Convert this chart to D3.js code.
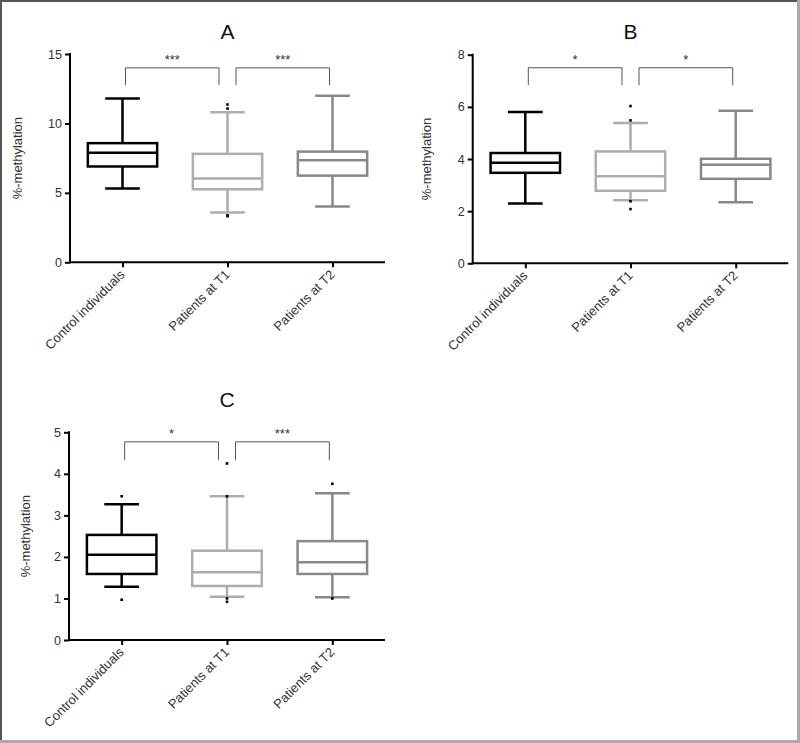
<!DOCTYPE html>
<html><head><meta charset="utf-8">
<script src="https://cdn.jsdelivr.net/npm/d3@7"></script>
<style>
html,body{margin:0;padding:0;background:#fff;}
svg{display:block;font-family:"Liberation Sans",Arial,sans-serif;}
</style></head>
<body>
<svg id="chart" width="800" height="743"></svg>
<script>
const categories = ["Control individuals", "Patients at T1", "Patients at T2"];
const colors = ["#000000", "#adadad", "#888888"];

// Panel A
const A_low = [5.31, 3.58, 4.01];
const A_q1 = [6.90, 5.26, 6.24];
const A_med = [7.88, 6.03, 7.35];
const A_q3 = [8.58, 7.81, 7.97];
const A_high = [11.80, 10.81, 11.99];
const A_outliers = [[], [11.36, 11.07, 3.38, 3.32], []];
const A_ticks = [0, 5, 10, 15];
const A_sig = ["***", "***"];

// Panel B
const B_low = [2.29, 2.42, 2.34];
const B_q1 = [3.47, 2.78, 3.24];
const B_med = [3.86, 3.34, 3.78];
const B_q3 = [4.23, 4.29, 4.01];
const B_high = [5.80, 5.38, 5.85];
const B_outliers = [[], [6.03, 5.48, 2.38, 2.08], []];
const B_ticks = [0, 2, 4, 6, 8];
const B_sig = ["*", "*"];

// Panel C
const C_low = [1.28, 1.04, 1.03];
const C_q1 = [1.59, 1.30, 1.59];
const C_med = [2.05, 1.63, 1.87];
const C_q3 = [2.53, 2.15, 2.38];
const C_high = [3.27, 3.46, 3.53];
const C_outliers = [[3.46, 0.97], [4.25, 3.46, 1.00, 0.92], [3.76, 1.00]];
const C_ticks = [0, 1, 2, 3, 4, 5];
const C_sig = ["*", "***"];

const panelTitles = ["A", "B", "C"];
const bracketTop = [14.0, 7.5, 4.77];
const bracketLeg = [12.76, 6.83, 4.33];

const svg = d3.select("#chart");

// frame
svg.append("rect").attr("x", 0).attr("y", 0).attr("width", 800).attr("height", 743).attr("fill", "#fff");
svg.append("line").attr("x1", 0).attr("y1", 1).attr("x2", 800).attr("y2", 1).attr("stroke", "#555").attr("stroke-width", 2);
svg.append("line").attr("x1", 1).attr("y1", 0).attr("x2", 1).attr("y2", 743).attr("stroke", "#555").attr("stroke-width", 2);
svg.append("line").attr("x1", 798.5).attr("y1", 0).attr("x2", 798.5).attr("y2", 743).attr("stroke", "#aaa").attr("stroke-width", 3);
svg.append("line").attr("x1", 0).attr("y1", 741.5).attr("x2", 800).attr("y2", 741.5).attr("stroke", "#aaa").attr("stroke-width", 3);

function panel(cfg) {
  const g = svg.append("g");
  const x = d3.scalePoint().domain(categories).range([cfg.x0, cfg.x1]).padding(0.5);
  const y = d3.scaleLinear().domain([0, cfg.ticks[cfg.ticks.length - 1]]).range([cfg.yb, cfg.yt]);
  const step = x.step();
  const bw = step * 0.66;
  const cw = bw / 2;

  // title
  g.append("text").attr("x", (cfg.x0 + cfg.x1) / 2).attr("y", cfg.titleY)
    .attr("text-anchor", "middle").attr("font-size", 21).attr("fill", "#111").text(cfg.title);

  // y axis
  const yAxis = d3.axisLeft(y).tickValues(cfg.ticks).tickSize(5).tickPadding(3).tickFormat(d3.format("d"));
  const ya = g.append("g").attr("transform", `translate(${cfg.x0},0)`).call(yAxis);
  ya.select(".domain").remove();
  ya.selectAll(".tick line").attr("stroke", "#000").attr("stroke-width", 2);
  ya.selectAll(".tick text").attr("font-size", 12.5).attr("fill", "#333").attr("font-family", "Liberation Sans, Arial, sans-serif");
  g.append("line").attr("x1", cfg.x0).attr("x2", cfg.x0).attr("y1", y(0) + 1).attr("y2", y.range()[1] - 1)
    .attr("stroke", "#000").attr("stroke-width", 2);

  // x axis
  const xAxis = d3.axisBottom(x).tickSize(5).tickFormat("");
  const xa = g.append("g").attr("transform", `translate(0,${y(0)})`).call(xAxis);
  xa.select(".domain").remove();
  xa.selectAll(".tick line").attr("stroke", "#000").attr("stroke-width", 2);
  g.append("line").attr("x1", cfg.x0 - 1).attr("x2", cfg.x1).attr("y1", y(0)).attr("y2", y(0))
    .attr("stroke", "#000").attr("stroke-width", 2);
  categories.forEach(c => {
    g.append("text")
      .attr("transform", `translate(${x(c) + 3},${y(0) + 13}) rotate(-45)`)
      .attr("text-anchor", "end").attr("font-size", 13).attr("fill", "#333").text(c);
  });

  // y label
  g.append("text").attr("transform", `translate(${cfg.labelX},${(y(0) + y.range()[1]) / 2}) rotate(-90)`)
    .attr("text-anchor", "middle").attr("font-size", 13).attr("fill", "#333").text("%-methylation");

  // boxes
  categories.forEach((c, i) => {
    const cx = x(c);
    const col = colors[i];
    const sw = 2.5;
    g.append("line").attr("x1", cx).attr("x2", cx).attr("y1", y(cfg.high[i])).attr("y2", y(cfg.q3[i])).attr("stroke", col).attr("stroke-width", sw);
    g.append("line").attr("x1", cx).attr("x2", cx).attr("y1", y(cfg.q1[i])).attr("y2", y(cfg.low[i])).attr("stroke", col).attr("stroke-width", sw);
    g.append("line").attr("x1", cx - cw / 2).attr("x2", cx + cw / 2).attr("y1", y(cfg.high[i])).attr("y2", y(cfg.high[i])).attr("stroke", col).attr("stroke-width", sw);
    g.append("line").attr("x1", cx - cw / 2).attr("x2", cx + cw / 2).attr("y1", y(cfg.low[i])).attr("y2", y(cfg.low[i])).attr("stroke", col).attr("stroke-width", sw);
    g.append("rect").attr("x", cx - bw / 2).attr("y", y(cfg.q3[i])).attr("width", bw).attr("height", y(cfg.q1[i]) - y(cfg.q3[i]))
      .attr("fill", "none").attr("stroke", col).attr("stroke-width", sw);
    g.append("line").attr("x1", cx - bw / 2).attr("x2", cx + bw / 2).attr("y1", y(cfg.med[i])).attr("y2", y(cfg.med[i])).attr("stroke", col).attr("stroke-width", sw);
    cfg.outliers[i].forEach(v => {
      g.append("rect").attr("x", cx - 1.3).attr("y", y(v) - 1.3).attr("width", 2.6).attr("height", 2.6).attr("fill", "#000");
    });
  });

  // significance brackets
  const c0 = x(categories[0]), c1 = x(categories[1]), c2 = x(categories[2]);
  const pairs = [[c0 + 3, c1 - 8.5], [c1 + 8.5, c2 - 3]];
  pairs.forEach((p, k) => {
    const yt = y(cfg.bTop), yl = y(cfg.bLeg);
    g.append("path").attr("d", `M${p[0]},${yl}V${yt}H${p[1]}V${yl}`)
      .attr("fill", "none").attr("stroke", "#555").attr("stroke-width", 1);
    g.append("text").attr("x", (p[0] + p[1]) / 2).attr("y", yt - 4)
      .attr("text-anchor", "middle").attr("font-size", 13).attr("fill", "#333").text(cfg.sig[k]);
  });
}

panel({ title: panelTitles[0], titleY: 39, x0: 70, x1: 385, yb: 262.3, yt: 54, ticks: A_ticks, labelX: 22,
  low: A_low, q1: A_q1, med: A_med, q3: A_q3, high: A_high, outliers: A_outliers, sig: A_sig, bTop: bracketTop[0], bLeg: bracketLeg[0] });
panel({ title: panelTitles[1], titleY: 39, x0: 472.7, x1: 788.3, yb: 263.3, yt: 54.7, ticks: B_ticks, labelX: 431,
  low: B_low, q1: B_q1, med: B_med, q3: B_q3, high: B_high, outliers: B_outliers, sig: B_sig, bTop: bracketTop[1], bLeg: bracketLeg[1] });
panel({ title: panelTitles[2], titleY: 407, x0: 69, x1: 385, yb: 640, yt: 432.3, ticks: C_ticks, labelX: 30,
  low: C_low, q1: C_q1, med: C_med, q3: C_q3, high: C_high, outliers: C_outliers, sig: C_sig, bTop: bracketTop[2], bLeg: bracketLeg[2] });
</script>
</body></html>
